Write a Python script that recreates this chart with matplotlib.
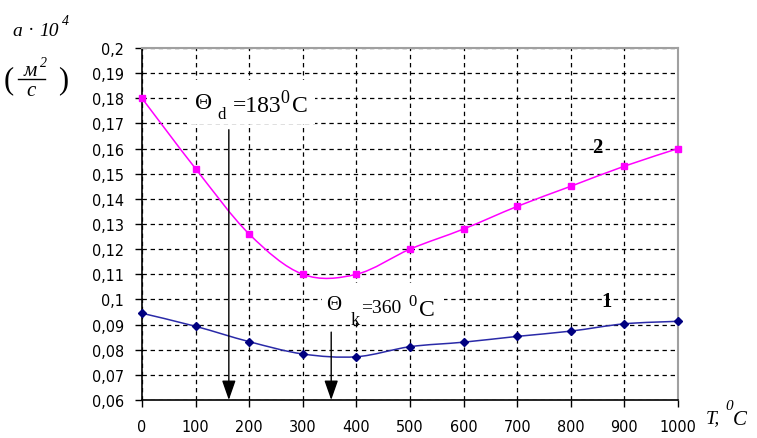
import numpy as np
import matplotlib
matplotlib.use("Agg")
import matplotlib.pyplot as plt
from matplotlib.path import Path
from matplotlib.patches import PathPatch, Rectangle, FancyArrowPatch
from matplotlib.lines import Line2D
from matplotlib import font_manager

# ---------------- data ----------------
T = [0, 100, 200, 300, 400, 500, 600, 700, 800, 900, 1000]
a_curve1 = [0.0945, 0.0893, 0.0832, 0.0783, 0.0772, 0.0812, 0.0830, 0.0853, 0.0874, 0.0903, 0.0913]
a_curve2 = [0.180, 0.152, 0.126, 0.110, 0.110, 0.120, 0.128, 0.137, 0.145, 0.153, 0.160]
x_ticks = [0, 100, 200, 300, 400, 500, 600, 700, 800, 900, 1000]
y_ticks = [0.06, 0.07, 0.08, 0.09, 0.10, 0.11, 0.12, 0.13, 0.14, 0.15, 0.16, 0.17, 0.18, 0.19, 0.20]
y_tick_labels = ["0,06", "0,07", "0,08", "0,09", "0,1", "0,11", "0,12", "0,13", "0,14",
                 "0,15", "0,16", "0,17", "0,18", "0,19", "0,2"]
theta_d = 162          # arrow position (as drawn)
theta_k = 353
arrow_d_top = 0.1675
arrow_k_top = 0.087

W, H = 757, 439
fig = plt.figure(figsize=(W / 100, H / 100), dpi=100)
ax = fig.add_axes([142 / W, 1 - 401 / H, (678 - 142) / W, (401 - 49) / H])

SERIF = "Liberation Serif"

# narrow font for tick labels if available
names = {f.name for f in font_manager.fontManager.ttflist}
cond = [f for f in font_manager.fontManager.ttflist
        if f.name == "DejaVu Sans" and "Condensed" in f.fname]
if "Liberation Sans Narrow" in names:
    TICKPROPS = dict(family="Liberation Sans Narrow", size=12)
elif cond:
    TICKPROPS = dict(family="DejaVu Sans", stretch="condensed", size=11.5)
else:
    TICKPROPS = dict(family="Liberation Sans", size=10.5)


def smooth_path(xs, ys):
    """Excel-like smoothed line through the points (cubic Bezier segments)."""
    pts = np.column_stack([xs, ys]).astype(float)
    n = len(pts)
    verts = [pts[0]]
    codes = [Path.MOVETO]
    for i in range(n - 1):
        p0 = pts[i - 1] if i > 0 else pts[i]
        p1 = pts[i]
        p2 = pts[i + 1]
        p3 = pts[i + 2] if i + 2 < n else pts[i + 1]
        c1 = p1 + (p2 - p0) / 6.0
        c2 = p2 - (p3 - p1) / 6.0
        verts += [c1, c2, p2]
        codes += [Path.CURVE4] * 3
    return Path(verts, codes)


# grid
ax.set_xlim(0, 1000)
ax.set_ylim(0.06, 0.20)
ax.set_xticks(x_ticks)
ax.set_yticks(y_ticks)
ax.set_yticklabels(y_tick_labels)
ax.grid(True, color="black", linestyle=(0, (3.5, 3)), linewidth=0.9)
ax.set_axisbelow(True)

# smoothed lines
ax.add_patch(PathPatch(smooth_path(T, a_curve2), fill=False, edgecolor="#ff00ff",
                       linewidth=1.1, zorder=3))
ax.add_patch(PathPatch(smooth_path(T, a_curve1), fill=False, edgecolor="#2a2aa8",
                       linewidth=1.1, zorder=3))
ax.plot(T, a_curve2, linestyle="none", marker="s", markersize=4.6,
        color="#ff00ff", clip_on=False, zorder=4)
ax.plot(T, a_curve1, linestyle="none", marker="D", markersize=3.8,
        color="#000080", clip_on=False, zorder=4)

# white boxes behind annotation texts
ax.add_patch(Rectangle((84, 0.1698), 238, 0.0175, facecolor="white", edgecolor="none", zorder=1.5))
ax.add_patch(Rectangle((335, 0.0915), 229, 0.0150, facecolor="white", edgecolor="none", zorder=1.5))

# arrows
for xa, ytop in [(theta_d, arrow_d_top), (theta_k, arrow_k_top)]:
    ax.add_patch(FancyArrowPatch((xa, ytop), (xa, 0.06),
                                 arrowstyle="-|>,head_length=0.8,head_width=0.28",
                                 mutation_scale=15, color="black", linewidth=1.0,
                                 shrinkA=0, shrinkB=0, zorder=5))

# spines / ticks
for s in ["top", "right"]:
    ax.spines[s].set_color("#a0a0a0")
    ax.spines[s].set_linewidth(1.5)
for s in ["left", "bottom"]:
    ax.spines[s].set_color("black")
    ax.spines[s].set_linewidth(1.2)
ax.tick_params(axis="both", direction="out", length=5, width=1.0, color="black")
ax.tick_params(axis="y", pad=8)
ax.tick_params(axis="x", pad=9)
for lab in ax.get_xticklabels() + ax.get_yticklabels():
    lab.set_family(TICKPROPS["family"])
    lab.set_fontsize(TICKPROPS["size"])
    if "stretch" in TICKPROPS:
        lab.set_stretch(TICKPROPS["stretch"])


def ptext(x, y, s, size, **kw):
    """place text by pixel coordinates (y from top)"""
    kw.setdefault("family", SERIF)
    fig.text(x / W, 1 - y / H, s, fontsize=size, **kw)


# curve labels
ptext(607, 302, "1", 15, weight="bold", ha="center", va="center")
ptext(597, 148, "2", 15, weight="bold", ha="center", va="center")

# Theta_d annotation
ptext(204, 103.5, "Θ", 17, ha="center", va="center")
ptext(222, 119, "d", 12, ha="center", va="baseline")
ptext(233, 111.7, "=183", 17, ha="left", va="baseline")
ptext(285, 103, "0", 13, ha="center", va="baseline")
ptext(292, 111.7, "C", 17, ha="left", va="baseline")

# Theta_k annotation
ptext(333.5, 305.5, "Θ", 15, ha="center", va="center")
ptext(355, 325, "k", 13, ha="center", va="baseline")
ptext(361, 313, "=360", 14, ha="left", va="baseline")
ptext(412.5, 306, "0", 12, ha="center", va="baseline")
ptext(419, 316, "C", 17, ha="left", va="baseline")

# y axis label
ptext(17, 36, "a", 14, style="italic", ha="center", va="baseline")
ptext(31.5, 31, "·", 14, ha="center", va="center")
ptext(49, 36.5, "10", 14, style="italic", ha="center", va="baseline")
ptext(65.5, 25, "4", 10, style="italic", ha="center", va="baseline")
ptext(9, 81, "(", 22, ha="center", va="center")
ptext(63, 81, ")", 22, ha="center", va="center")
ptext(30.5, 76, "м", 15, style="italic", ha="center", va="baseline")
ptext(43, 67, "2", 10, style="italic", ha="center", va="baseline")
fig.add_artist(Line2D([18 / W, 45 / W], [1 - 79.5 / H, 1 - 79.5 / H], color="black", linewidth=1.0))
ptext(31, 96, "c", 15, style="italic", ha="center", va="baseline")

# x axis label
ptext(706, 423, "T,", 14, style="italic", ha="left", va="baseline")
ptext(729.5, 410, "0", 11, style="italic", ha="center", va="baseline")
ptext(733, 425, "C", 15, style="italic", ha="left", va="baseline")

fig.savefig("out.png", dpi=100, facecolor="white")
